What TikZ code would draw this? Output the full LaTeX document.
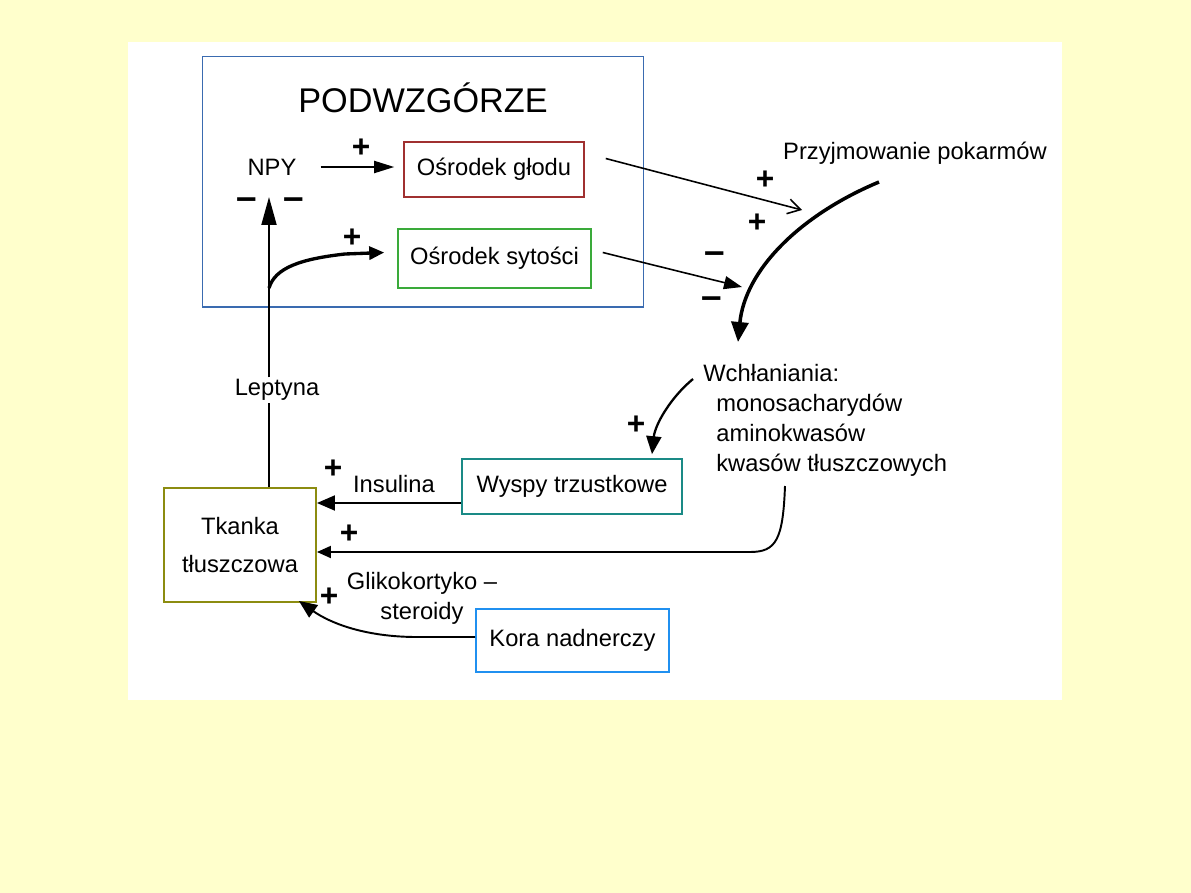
\documentclass[tikz,border=0pt]{standalone}
\usepackage{fontspec}
\setmainfont{Liberation Sans}
\usepackage{tikz}
\usetikzlibrary{positioning, arrows.meta}
\definecolor{tlo}{HTML}{FFFFCC}
\definecolor{podwzc}{HTML}{3A6BB0}
\definecolor{glodc}{HTML}{A03030}
\definecolor{sytc}{HTML}{3AAA3A}
\definecolor{wyspyc}{HTML}{1A8A86}
\definecolor{tkankac}{HTML}{8C8C10}
\definecolor{korac}{HTML}{2090F0}

\begin{document}
\begin{tikzpicture}[x=0.02cm, y=-0.02cm,
    font=\fontsize{13.5}{16}\selectfont,
    ramka/.style={draw, line width=0.9pt, inner sep=0pt, align=center},
    znak/.style={font=\fontsize{18}{18}\selectfont\bfseries, inner sep=0pt},
    minus/.style={font=\fontsize{21}{21}\selectfont\bfseries, inner sep=0pt},
    linia/.style={line width=1.1pt},
    grot/.style={-{Triangle[length=0.36cm, width=0.3cm]}},
    opis/.style={fill=white, inner sep=1pt}]
    % Tlo i biala plansza
    \useasboundingbox (0,0) rectangle (1191,893);
    \fill[tlo] (0,0) rectangle (1191,893);
    \fill[white] (128,42) rectangle (1062,700);

    % Podwzgorze
    \node[ramka, draw=podwzc, line width=0.6pt, minimum width=8.84cm, minimum height=5.02cm] (podwz) at (423,181.5) {};
    \node[font=\fontsize{19.5}{20}\selectfont] (tytul) at (423,98) {PODWZGÓRZE};
    \node (npy) at (272,167) {NPY};
    \node[ramka, draw=glodc, minimum width=3.6cm, minimum height=1.1cm] (glod) at (494,169.5) {Ośrodek głodu};
    \node[ramka, draw=sytc, minimum width=3.86cm, minimum height=1.18cm] (sytosc) at (494.5,258.5) {Ośrodek sytości};

    % Pozostale wezly
    \node[ramka, draw=wyspyc, minimum width=4.4cm, minimum height=1.1cm] (wyspy) at (572,486.5) {Wyspy trzustkowe};
    \node[ramka, draw=tkankac, line width=1.1pt, minimum width=3.04cm, minimum height=2.28cm,
          font=\fontsize{13.5}{21.5}\selectfont] (tkanka) at (240,545) {Tkanka\\tłuszczowa};
    \node[ramka, draw=korac, line width=1.1pt, minimum width=3.86cm, minimum height=1.26cm] (kora) at (572.5,640.5) {Kora nadnerczy};
    \node (przyj) at (915,153) {Przyjmowanie pokarmów};
    \node[anchor=north west, inner sep=0pt, align=left, font=\fontsize{13.5}{17}\selectfont] (wchl) at (703,364)
        {Wchłaniania:\\\hspace*{7.4pt}monosacharydów\\\hspace*{7.4pt}aminokwasów\\\hspace*{7.4pt}kwasów tłuszczowych};

    % Punkty pomocnicze
    \coordinate (npy tip) at (269,197);
    \coordinate (rozw) at (269,288);
    \coordinate (przyj plus) at (802,210);
    \coordinate (przyj minus) at (742,287);
    \coordinate (pk start) at (879,182);
    \coordinate (pk koniec) at (738,342);
    \coordinate (wchl dol) at (785,486);
    \coordinate (zakret) at (750,552);
    \coordinate (kora zakret) at (417,637);

    % Leptyna
    \node[inner sep=1pt] (leptyna) at (277,390) {Leptyna};
    \draw[linia] (tkanka.north -| npy tip) -- (leptyna.south -| npy tip);
    \draw[linia, -{Triangle[length=0.56cm, width=0.3cm]}] (leptyna.north -| npy tip) -- (npy tip);
    \draw[line width=1.9pt, -{Triangle[length=0.3cm, width=0.26cm]}] (rozw)
        .. controls (275,268) and (300,259) .. (345,254) -- ([shift={(-13,-6)}]sytosc.west);

    % Strzalki w podwzgorzu i do przyjmowania pokarmow
    \draw[linia, -{Triangle[length=0.4cm, width=0.24cm]}] ([xshift=0.36cm]npy.east) -- ([xshift=-0.18cm]npy.east -| glod.west);
    \draw[line width=0.9pt, -{Straight Barb[length=0.25cm, width=0.3cm]}] ([shift={(21,-11)}]glod.east) -- (przyj plus);
    \draw[line width=0.9pt, -{Triangle[length=0.36cm, width=0.26cm]}] ([shift={(11,-6)}]sytosc.east) -- (przyj minus);
    \draw[line width=2pt, -{Triangle[length=0.4cm, width=0.34cm]}] (pk start)
        .. controls (800,215) and (745,270) .. (pk koniec);

    % Wchlanianie
    \draw[line width=1.3pt, grot] ([shift={(-10,15)}]wchl.north west)
        .. controls (670,398) and (655,425) .. ([shift={(80,-4)}]wyspy.north);
    \draw[linia, -{Triangle[length=0.28cm, width=0.24cm]}] (wchl dol)
        .. controls (783,540) and (776,552) .. (zakret) -- (zakret -| tkanka.east);

    % Insulina i glikokortykosteroidy
    \draw[linia, grot] ([yshift=-0.33cm]wyspy.west) -- ([yshift=-0.33cm]wyspy.west -| tkanka.east);
    \node (insulina) at (394,484) {Insulina};
    \draw[linia, grot] ([yshift=0.07cm]kora.west) -- (kora zakret)
        .. controls (365,637) and (330,623) .. ([shift={(-18,-2)}]tkanka.south east);
    \node[align=center, font=\fontsize{13.5}{17}\selectfont] (gliko) at (422,598) {Glikokortyko –\\steroidy};

    % Znaki
    \node[znak] (z1) at (361,148) {+};
    \node[minus] (z2) at (247,204) {–};
    \node[minus] (z3) at (294,204) {–};
    \node[znak] (z4) at (352,238) {+};
    \node[znak] (z5) at (765,180) {+};
    \node[znak] (z6) at (757,223) {+};
    \node[minus] (z7) at (715,258) {–};
    \node[minus] (z8) at (712,303) {–};
    \node[znak] (z9) at (636,425) {+};
    \node[znak] (z10) at (333,469) {+};
    \node[znak] (z11) at (349,534) {+};
    \node[znak] (z12) at (329,597) {+};
\end{tikzpicture}
\end{document}
